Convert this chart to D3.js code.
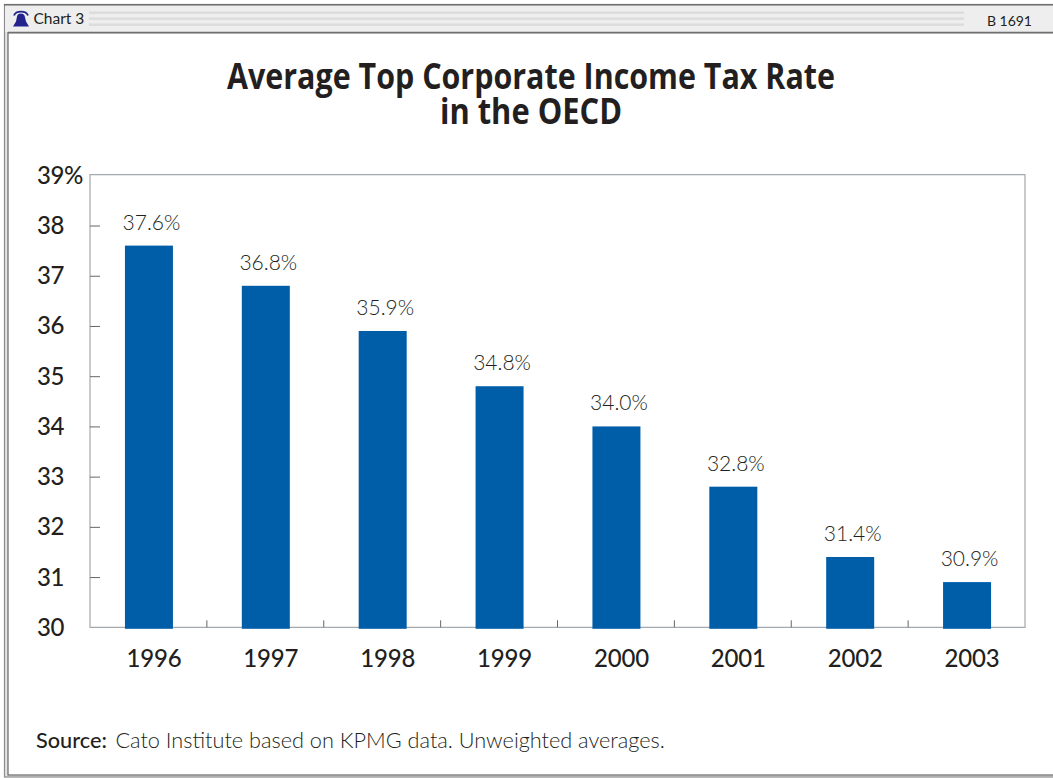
<!DOCTYPE html>
<html>
<head>
<meta charset="utf-8">
<script src="https://cdn.jsdelivr.net/npm/d3@7/dist/d3.min.js"></script>
<style>
html,body{margin:0;padding:0;background:#fff;overflow:hidden}
svg{display:block}
text{font-family:Lato,"Open Sans",sans-serif;fill:#231f20}
</style>
</head>
<body>
<svg id="chart" width="1053" height="778"></svg>
<script>
// Average top corporate income tax rate, percent
const years = ["1996","1997","1998","1999","2000","2001","2002","2003"];
const rates = [37.6,36.8,35.9,34.8,34.0,32.8,31.4,30.9];
const yTicks = [30,31,32,33,34,35,36,37,38,39];
const titleLines = ["Average Top Corporate Income Tax Rate","in the OECD"];

const svg = d3.select("#chart");
const plot = {left:90, right:1025, top:175.3, bottom:627.3};
const x = d3.scaleBand().domain(years).range([plot.left,plot.right]);
const y = d3.scaleLinear().domain([30,39]).range([plot.bottom,plot.top]);
const barW = 48;

// Page frame: grey band between an outer and an inner rule, header strip on top
svg.append("rect").attr("x",4.5).attr("y",4.5).attr("width",1060).attr("height",772.5)
  .attr("fill","#e4e4e4").attr("stroke","#8c8c8c").attr("stroke-width",1.2);
svg.append("rect").attr("x",8).attr("y",32.5).attr("width",1060).attr("height",742.5)
  .attr("fill","#fff").attr("stroke","#666").attr("stroke-width",1.2);
svg.append("rect").attr("x",5).attr("y",5.5).attr("width",1048).attr("height",26.5).attr("fill","#eeeeee");
svg.append("line").attr("x1",4).attr("x2",1053).attr("y1",4.8).attr("y2",4.8).attr("stroke","#6f6f6f").attr("stroke-width",1.6);
svg.append("line").attr("x1",8).attr("x2",1053).attr("y1",32.6).attr("y2",32.6).attr("stroke","#6f6f6f").attr("stroke-width",1.6);
[12.5,18.5,24.5].forEach(yy=>{
  svg.append("rect").attr("x",89).attr("y",yy-1).attr("width",875).attr("height",2.4).attr("fill","#dcdcdc");
});

// Bell icon
svg.append("path")
  .attr("d","M13 26.5 L16 21.5 L17 16.5 Q17.5 13.6 20.8 13.6 Q24.2 13.6 24.8 16.5 L26 21.5 L29 26.5 Z")
  .attr("fill","#23238e");
svg.append("path")
  .attr("d","M14 15.5 Q15.5 11.6 21 11.6 Q26.5 11.6 28 15.5")
  .attr("fill","none").attr("stroke","#23238e").attr("stroke-width",1.8);

svg.append("text").attr("x",33.5).attr("y",24).attr("font-size",15.5).attr("fill","#333").text("Chart 3");
svg.append("text").attr("x",1032).attr("y",25.5).attr("text-anchor","end").attr("font-size",14).attr("fill","#333").text("B 1691");

// Title
svg.append("g").selectAll("text").data(titleLines).join("text")
  .attr("x",531).attr("y",(d,i)=>89+i*35)
  .attr("text-anchor","middle").attr("font-size",35).attr("font-weight",700)
  .style("font-family","'Open Sans',sans-serif")
  .attr("textLength",(d,i)=>i===0?608:182).attr("lengthAdjust","spacingAndGlyphs")
  .text(d=>d);

// Plot border
svg.append("path")
  .attr("d",`M${plot.left},${plot.top-0.6}H${plot.right}V${plot.bottom}H${plot.left}Z`)
  .attr("fill","none").attr("stroke","#a3a9ae").attr("stroke-width",1.2);

// Axes, with inward ticks
const yAxis = d3.axisLeft(y).tickValues(yTicks.slice(1,-1)).tickSize(-10).tickFormat("");
svg.append("g").attr("transform",`translate(${plot.left},0)`).call(yAxis)
  .call(g=>g.select(".domain").remove())
  .call(g=>g.selectAll("line").attr("stroke","#666"));
const xTickPos = years.slice(1).map(d=>x(d));
svg.append("g").selectAll("line").data(xTickPos).join("line")
  .attr("x1",d=>d).attr("x2",d=>d).attr("y1",plot.bottom-7).attr("y2",plot.bottom).attr("stroke","#666");

// Value-axis labels
svg.append("g").selectAll("text").data(yTicks).join("text")
  .attr("x",37).attr("y",d=>y(d)+8.5).attr("font-size",24).attr("font-weight",500)
  .attr("letter-spacing",-0.4)
  .text(d=>d===39?d+"%":d);

// Bars run slightly past the baseline
svg.append("g").selectAll("rect").data(rates).join("rect")
  .attr("x",(d,i)=>x(years[i])+x.bandwidth()/2-barW/2+0.5)
  .attr("y",d=>y(d))
  .attr("width",barW)
  .attr("height",d=>y(30)-y(d)+1.5)
  .attr("fill","#005da8");

// Value labels
svg.append("g").selectAll("text").data(rates).join("text")
  .attr("x",(d,i)=>x(years[i])+x.bandwidth()/2+3)
  .attr("y",d=>y(d)-16)
  .attr("text-anchor","middle").attr("font-size",21).attr("font-weight",300)
  .text(d=>d.toFixed(1)+"%");

// Category labels
svg.append("g").selectAll("text").data(years).join("text")
  .attr("x",d=>x(d)+x.bandwidth()/2+5.5)
  .attr("y",667).attr("text-anchor","middle").attr("font-size",24).attr("font-weight",500)
  .attr("letter-spacing",-0.2)
  .text(d=>d);

// Source note
const note = svg.append("text").attr("x",36).attr("y",748).attr("font-size",21.7);
note.append("tspan").attr("font-weight",500).text("Source:");
note.append("tspan").attr("font-weight",300).attr("dx",8.5).text("Cato Institute based on KPMG data. Unweighted averages.");
</script>
</body>
</html>
